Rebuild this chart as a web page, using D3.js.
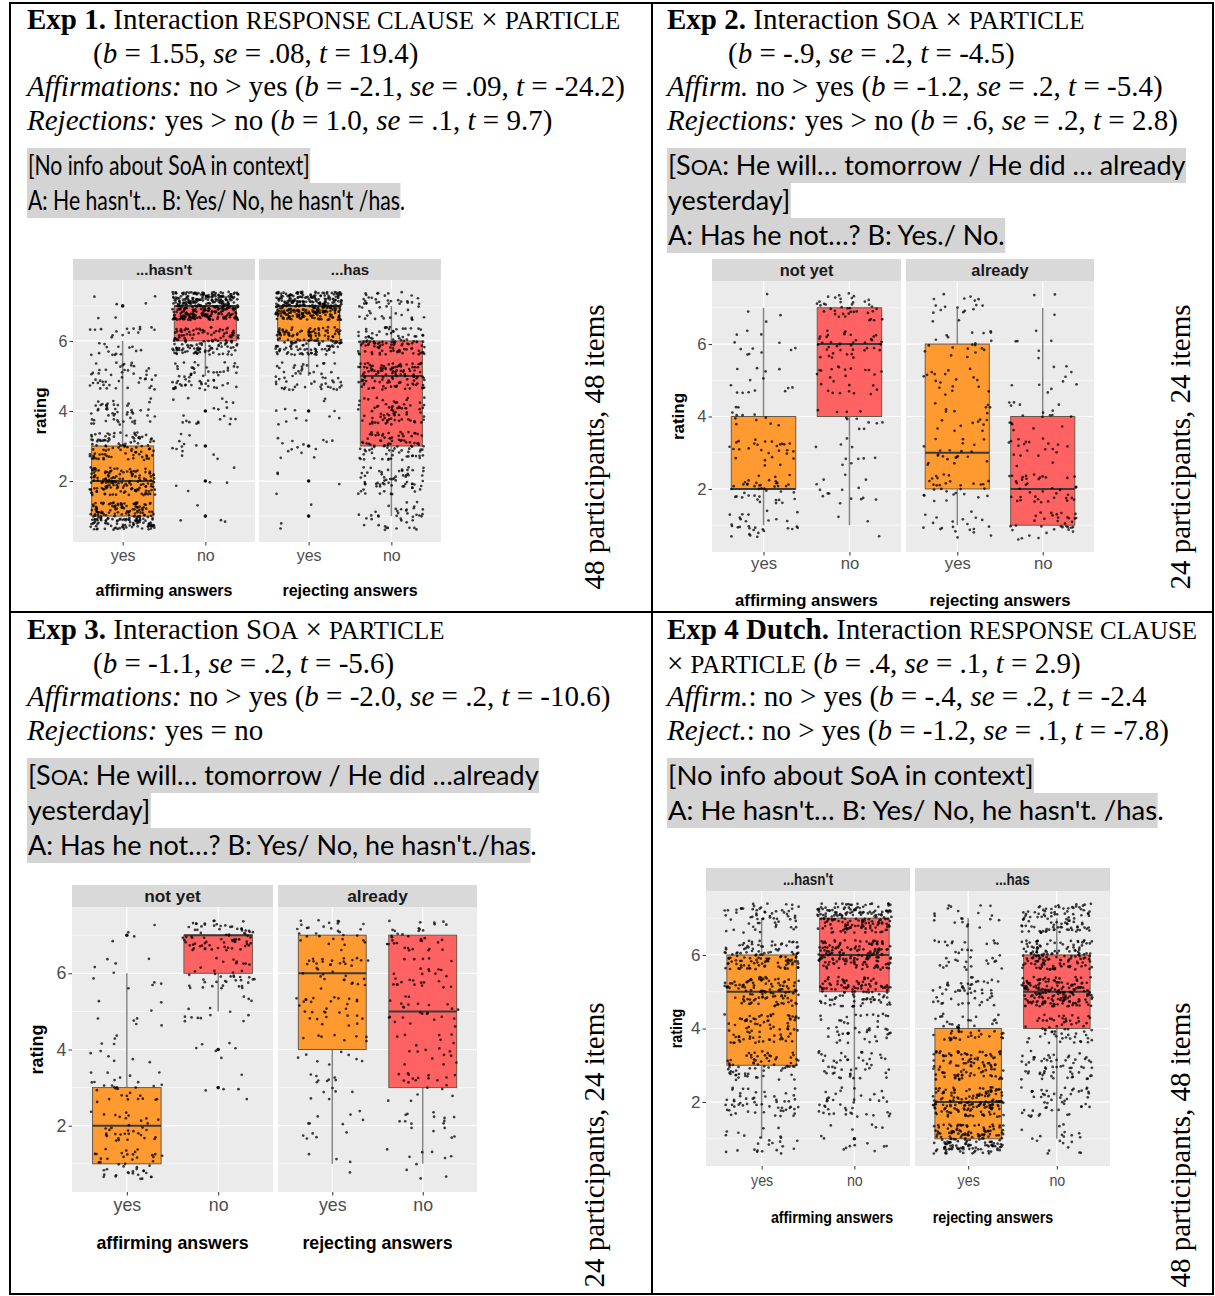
<!DOCTYPE html>
<html><head><meta charset="utf-8">
<script src="https://cdn.jsdelivr.net/npm/d3@7"></script>
<style>body{margin:0;background:#fff}</style></head>
<body><svg id="c" width="1215" height="1296"></svg>
<script>
// ---------------- data ----------------
const ratingLevels = [1,2,3,4,5,6,7];
const yTickValues = [2,4,6];
const particles = ["yes","no"];
const answerTypes = ["affirming answers","rejecting answers"];
const exp1Facets = ["...hasn't","...has"];
const exp2Facets = ["not yet","already"];
const exp3Facets = ["not yet","already"];
const exp4Facets = ["...hasn't","...has"];
// box stats: [lower whisker, q1, median, q3, upper whisker]; order: facet1-yes, facet1-no, facet2-yes, facet2-no
const exp1Stats = [[1,1,2,3,6],[5,6,7,7,7],[5,6,7,7,7],[1,3,5,6,7]];
const exp2Stats = [[1,2,2,4,7],[1,4,6,7,7],[1,2,3,6,7],[1,1,2,4,7]];
const exp3Stats = [[1,1,2,3,6],[5,6,7,7,7],[1,4,6,7,7],[1,3,5,7,7]];
const exp4Stats = [[1,3,5,6,7],[2,5,6,7,7],[1,1,2,4,7],[1,4,5,6,7]];
// number of ratings at each level 1..7 per box
const exp1Counts = [[190,150,100,50,45,30,6],[4,5,12,20,60,140,330],[3,4,14,12,55,150,320],[40,65,90,75,120,110,50]];
const exp2Counts = [[30,42,28,12,14,12,4],[3,15,10,12,25,40,40],[20,30,22,18,18,20,18],[35,40,20,18,10,6,3]];
const exp3Counts = [[45,35,30,10,8,10,4],[0,0,5,6,14,40,75],[4,12,14,16,30,35,30],[10,16,20,18,25,28,35]];
const exp4Counts = [[25,55,70,80,110,120,60],[15,40,45,45,110,150,170],[170,150,100,50,50,35,20],[20,50,60,60,170,140,100]];
const sampleLabels = ["48 participants, 48 items","24 participants, 24 items","24 participants, 24 items","48 participants, 48 items"];

const exp1Header = [
 [["b","Exp 1."],["n"," Interaction "],["sc","RESPONSE CLAUSE"],["n"," × "],["sc","PARTICLE"]],
 [["n","("],["i","b"],["n"," = 1.55, "],["i","se"],["n"," = .08, "],["i","t"],["n"," = 19.4)"]],
 [["i","Affirmations:"],["n"," no > yes ("],["i","b"],["n"," = -2.1, "],["i","se"],["n"," = .09, "],["i","t"],["n"," = -24.2)"]],
 [["i","Rejections:"],["n"," yes > no ("],["i","b"],["n"," = 1.0, "],["i","se"],["n"," = .1, "],["i","t"],["n"," = 9.7)"]]
];
const exp2Header = [
 [["b","Exp 2."],["n"," Interaction S"],["sc","OA"],["n"," × "],["sc","PARTICLE"]],
 [["n","("],["i","b"],["n"," = -.9, "],["i","se"],["n"," = .2, "],["i","t"],["n"," = -4.5)"]],
 [["i","Affirm."],["n"," no > yes ("],["i","b"],["n"," = -1.2, "],["i","se"],["n"," = .2, "],["i","t"],["n"," = -5.4)"]],
 [["i","Rejections:"],["n"," yes > no ("],["i","b"],["n"," = .6, "],["i","se"],["n"," = .2, "],["i","t"],["n"," = 2.8)"]]
];
const exp3Header = [
 [["b","Exp 3."],["n"," Interaction S"],["sc","OA"],["n"," × "],["sc","PARTICLE"]],
 [["n","("],["i","b"],["n"," = -1.1, "],["i","se"],["n"," = .2, "],["i","t"],["n"," = -5.6)"]],
 [["i","Affirmations:"],["n"," no > yes ("],["i","b"],["n"," = -2.0, "],["i","se"],["n"," = .2, "],["i","t"],["n"," = -10.6)"]],
 [["i","Rejections:"],["n"," yes = no"]]
];
const exp4Header = [
 [["b","Exp 4 Dutch."],["n"," Interaction "],["sc","RESPONSE CLAUSE"]],
 [["n","× "],["sc","PARTICLE"],["n"," ("],["i","b"],["n"," = .4, "],["i","se"],["n"," = .1, "],["i","t"],["n"," = 2.9)"]],
 [["i","Affirm."],["n",": no > yes ("],["i","b"],["n"," = -.4, "],["i","se"],["n"," = .2, "],["i","t"],["n"," = -2.4"]],
 [["i","Reject."],["n",": no > yes ("],["i","b"],["n"," = -1.2, "],["i","se"],["n"," = .1, "],["i","t"],["n"," = -7.8)"]]
];
// context lines; "tail" = trailing characters outside the grey highlight
const exp1Context = [
 {segs:[["n","[No info about SoA in context]"]], tail:""},
 {segs:[["n","A: He hasn't… B: Yes/ No, he hasn't /has."]], tail:"."}
];
const exp2Context = [
 {segs:[["n","[S"],["sc","OA"],["n",": He will… tomorrow / He did … already"]], tail:""},
 {segs:[["n","yesterday]"]], tail:""},
 {segs:[["n","A: Has he not…? B: Yes./ No."]], tail:""}
];
const exp3Context = [
 {segs:[["n","[S"],["sc","OA"],["n",": He will… tomorrow / He did …already"]], tail:""},
 {segs:[["n","yesterday]"]], tail:""},
 {segs:[["n","A: Has he not…? B: Yes/ No, he hasn't./has."]], tail:"."}
];
const exp4Context = [
 {segs:[["n","[No info about SoA in context]"]], tail:""},
 {segs:[["n","A: He hasn't… B: Yes/ No, he hasn't. /has."]], tail:"."}
];

// ---------------- layout ----------------
const svg = d3.select("#c");
const SERIF = "'Liberation Serif','Times New Roman',Times,serif";
const CAL = "Lato,Carlito,Calibri,sans-serif";
const SANS = "'Liberation Sans',Arial,Helvetica,sans-serif";
const TSIZE = 29;
const boxFill = ["#FF9A30","#FF6262"];

svg.append("rect").attr("width",1215).attr("height",1296).attr("fill","#fff");

// table grid
const grid = svg.append("g").attr("stroke","#000").attr("stroke-width",2).attr("fill","none");
grid.append("rect").attr("x",10).attr("y",3).attr("width",1203).attr("height",1291);
grid.append("line").attr("x1",652).attr("x2",652).attr("y1",3).attr("y2",1294);
grid.append("line").attr("x1",10).attr("x2",1213).attr("y1",612).attr("y2",612);

function addSegs(text, segs, size, scRatio){
  segs.forEach(([s,t])=>{
    const ts = text.append("tspan").text(t);
    if(s==="b") ts.attr("font-weight","bold");
    if(s==="i") ts.attr("font-style","italic");
    if(s==="sc") ts.attr("font-size", size*scRatio);
  });
}

function squeeze(sel, k){
  if(k===1) return;
  sel.each(function(){
    const w = this.getComputedTextLength();
    d3.select(this).attr("textLength", w*k).attr("lengthAdjust","spacingAndGlyphs");
  });
}

function drawHeader(lines, x0, baselines, indents){
  lines.forEach((segs,i)=>{
    const t = svg.append("text").attr("x",x0+indents[i]).attr("y",baselines[i])
      .attr("font-family",SERIF).attr("font-size",TSIZE).attr("fill","#000");
    addSegs(t, segs, TSIZE, 0.86);
  });
}

function drawContext(lines, x0, top, size, k){
  const lh = 35;
  lines.forEach((ln,i)=>{
    const g = svg.append("g");
    const r = g.append("rect").attr("x",x0).attr("y",top+i*lh).attr("height",lh).attr("fill","#D4D4D4");
    const yb = top+i*lh+17.5;
    const t = g.append("text").attr("x",x0+1).attr("y",yb).attr("dy","0.36em")
      .attr("font-family",CAL).attr("font-size",size).attr("fill","#000");
    addSegs(t, ln.segs, size, 0.8);
    const full = t.node().getComputedTextLength();
    let tailW = 0;
    if(ln.tail){
      const tmp = g.append("text").attr("font-family",CAL).attr("font-size",size).text(ln.tail);
      tailW = tmp.node().getComputedTextLength();
      tmp.remove();
    }
    if(k!==1) t.attr("textLength",full*k).attr("lengthAdjust","spacingAndGlyphs");
    r.attr("width", (full-tailW)*k+1.5);
  });
}

drawHeader(exp1Header, 27, [29,62.5,96,129.5], [0,66,0,0]);
drawHeader(exp2Header, 667, [29,62.5,96,129.5], [0,61,0,0]);
drawHeader(exp3Header, 27, [639,672.5,706,739.5], [0,66,0,0]);
drawHeader(exp4Header, 667, [639,672.5,706,739.5], [0,0,0,0]);
drawContext(exp1Context, 27, 148, 27, 0.785);
drawContext(exp2Context, 667, 148, 27, 1);
drawContext(exp3Context, 27, 758, 27, 1);
drawContext(exp4Context, 667, 758, 27.5, 1);

// ---------------- plots ----------------
function hash(n){ const s = Math.sin(n)*43758.5453123; return s-Math.floor(s); }

const plots = [
 {facets:exp1Facets, stats:exp1Stats, counts:exp1Counts, panels:[[73,255],[259,441]], top:280, bottom:542, strip:21,
  fs:16, sfs:15, rfs:17, sq:1, tickDy:13, titleDy:48, titleX:null, ratingDx:-33, lx:604, ly:447},
 {facets:exp2Facets, stats:exp2Stats, counts:exp2Counts, panels:[[712,901],[906,1094]], top:281, bottom:552, strip:22,
  fs:16.7, sfs:16.4, rfs:17, sq:1, tickDy:11, titleDy:48, titleX:null, ratingDx:-34, lx:1190, ly:447},
 {facets:exp3Facets, stats:exp3Stats, counts:exp3Counts, panels:[[72,273],[278,477]], top:907, bottom:1192, strip:22,
  fs:17.8, sfs:17.3, rfs:18, sq:1, tickDy:13, titleDy:51, titleX:null, ratingDx:-35, lx:604, ly:1145},
 {facets:exp4Facets, stats:exp4Stats, counts:exp4Counts, panels:[[706,910],[915,1110]], top:891, bottom:1166, strip:23,
  fs:17, sfs:16, rfs:17, sq:0.84, tickDy:14, titleDy:51, titleX:[832,993], ratingDx:-30, lx:1190, ly:1145}
];

plots.forEach((p,pi)=>{
  const g = svg.append("g");
  const y = d3.scaleLinear().domain([0.26,7.74]).range([p.bottom,p.top]);
  p.panels.forEach((px,fi)=>{
    const x = d3.scalePoint().domain(particles).range(px).padding(0.6);
    const step = x.step();
    const pg = g.append("g");
    pg.append("rect").attr("x",px[0]).attr("y",p.top).attr("width",px[1]-px[0]).attr("height",p.bottom-p.top).attr("fill","#EBEBEB");
    // grid
    ratingLevels.filter(v=>v%2===1).forEach(v=>{
      pg.append("line").attr("x1",px[0]).attr("x2",px[1]).attr("y1",y(v)).attr("y2",y(v)).attr("stroke","#fff").attr("stroke-width",0.6);
    });
    yTickValues.forEach(v=>{
      pg.append("line").attr("x1",px[0]).attr("x2",px[1]).attr("y1",y(v)).attr("y2",y(v)).attr("stroke","#fff").attr("stroke-width",1.2);
    });
    particles.forEach(c=>{
      pg.append("line").attr("x1",x(c)).attr("x2",x(c)).attr("y1",p.top).attr("y2",p.bottom).attr("stroke","#fff").attr("stroke-width",1.2);
    });
    // strip
    pg.append("rect").attr("x",px[0]).attr("y",p.top-p.strip).attr("width",px[1]-px[0]).attr("height",p.strip).attr("fill","#D9D9D9");
    const st = pg.append("text").attr("x",(px[0]+px[1])/2).attr("y",p.top-p.strip/2).attr("dy","0.36em")
      .attr("text-anchor","middle").attr("font-family",SANS).attr("font-weight","bold").attr("font-size",p.sfs)
      .attr("fill","#1A1A1A").text(p.facets[fi]);
    squeeze(st, p.sq);
    // boxes
    particles.forEach((c,ci)=>{
      const bi = fi*2+ci;
      const [lo,q1,med,q3,hi] = p.stats[bi];
      const cx = x(c), hw = 0.375*step;
      pg.append("line").attr("x1",cx).attr("x2",cx).attr("y1",y(hi)).attr("y2",y(q3)).attr("stroke","#858585").attr("stroke-width",1.5);
      pg.append("line").attr("x1",cx).attr("x2",cx).attr("y1",y(q1)).attr("y2",y(lo)).attr("stroke","#858585").attr("stroke-width",1.5);
      pg.append("rect").attr("x",cx-hw).attr("y",y(q3)).attr("width",2*hw).attr("height",Math.max(0,y(q1)-y(q3)))
        .attr("fill",boxFill[ci]).attr("stroke","#6b5a4a").attr("stroke-width",1);
      pg.append("line").attr("x1",cx-hw).attr("x2",cx+hw).attr("y1",y(med)).attr("y2",y(med)).attr("stroke","#3a3a3a").attr("stroke-width",2);
      // outliers at category centre
      ratingLevels.forEach((lv,li)=>{
        if(p.counts[bi][li]>0 && (lv<lo || lv>hi)){
          pg.append("circle").attr("cx",cx).attr("cy",y(lv)).attr("r",1.8).attr("fill","#111");
        }
      });
      // jittered ratings
      const pts = [];
      ratingLevels.forEach((lv,li)=>{
        for(let j=0;j<p.counts[bi][li];j++){
          const n = pi*100003 + bi*10007 + li*1009 + j + 1;
          pts.push({lv, jx:hash(n*1.6180339)*0.8-0.4, jy:hash(n*2.7182818+0.5)*0.8-0.4});
        }
      });
      pg.append("g").selectAll("circle").data(pts).join("circle")
        .attr("cx",d=>cx+d.jx*step).attr("cy",d=>y(d.lv+d.jy)).attr("r",1.35)
        .attr("fill","#000").attr("fill-opacity",0.75);
    });
    // x axis
    const xa = d3.axisBottom(x).tickSize(3.5).tickPadding(Math.max(1,p.tickDy-0.36*p.fs-3.5));
    const xg = pg.append("g").attr("transform",`translate(0,${p.bottom})`).call(xa);
    xg.select(".domain").remove();
    xg.selectAll("line").attr("stroke","#333");
    xg.selectAll("text").attr("font-family",SANS).attr("font-size",p.fs).attr("fill","#4D4D4D");
    squeeze(xg.selectAll("text"), p.sq);
    // axis title
    const tx = p.titleX ? p.titleX[fi] : (px[0]+px[1])/2;
    const tt = pg.append("text").attr("x",tx).attr("y",p.bottom+p.titleDy).attr("dy","0.36em").attr("text-anchor","middle")
      .attr("font-family",SANS).attr("font-weight","bold").attr("font-size",p.fs).attr("fill","#000").text(answerTypes[fi]);
    squeeze(tt, p.sq);
    if(fi===0){
      const ya = d3.axisLeft(y).tickValues(yTickValues).tickSize(3.5).tickPadding(2).tickFormat(d3.format("d"));
      const yg = pg.append("g").attr("transform",`translate(${px[0]},0)`).call(ya);
      yg.select(".domain").remove();
      yg.selectAll("line").attr("stroke","#333");
      yg.selectAll("text").attr("font-family",SANS).attr("font-size",p.fs).attr("fill","#4D4D4D");
      const rt = pg.append("text").attr("transform",`translate(${px[0]+p.ratingDx},${(p.top+p.bottom)/2}) rotate(-90)`)
        .attr("text-anchor","middle").attr("dy","0.36em").attr("font-family",SANS).attr("font-weight","bold")
        .attr("font-size",p.rfs).attr("fill","#000").text("rating");
      squeeze(rt, p.sq);
    }
  });
  // sample label (rotated)
  svg.append("text").attr("transform",`translate(${p.lx},${p.ly}) rotate(-90)`).attr("text-anchor","middle")
    .attr("font-family",SERIF).attr("font-size",TSIZE).attr("fill","#000").text(sampleLabels[pi]);
});
</script>
</body></html>
